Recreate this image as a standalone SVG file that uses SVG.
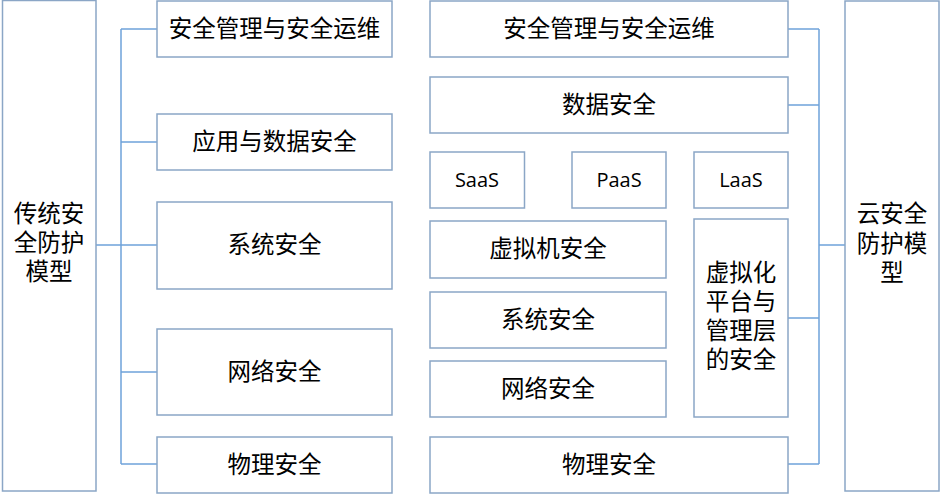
<svg xmlns="http://www.w3.org/2000/svg" width="941" height="494" viewBox="0 0 941 494">
<style>
.box{fill:#fff;stroke:#8BA6C6;stroke-width:1.5}
.c{fill:none;stroke:#6FA3DA;stroke-width:1.5}
.t{font-family:"Noto Sans CJK SC","Noto Sans",sans-serif;font-size:23.5px;fill:#000;text-anchor:middle;dominant-baseline:central}
.l{font-family:"Open Sans","Noto Sans",sans-serif;font-size:20px;fill:#000;text-anchor:middle;dominant-baseline:central}
</style>
<rect width="941" height="494" fill="#fff"/>
<g id="connectors">
<path class="c" d="M96,245H121M121,29V464M121,29H157M121,142H157M121,245H157M121,372H157M121,464H157"/>
<path class="c" d="M845,245H819M819,29V464M788,29H819M788,105H819M788,318H819M788,464H819"/>
</g>
<g id="trad"><rect class="box" x="2.5" y="0.5" width="93.5" height="490.5"/><text class="t" x="49" y="212">传统安</text><text class="t" x="49" y="241">全防护</text><text class="t" x="49" y="270">模型</text></g>
<g id="l1"><rect class="box" x="157" y="1" width="235" height="56"/><text class="t" x="274.5" y="27">安全管理与安全运维</text></g>
<g id="l2"><rect class="box" x="157" y="114" width="235" height="56"/><text class="t" x="274.5" y="140">应用与数据安全</text></g>
<g id="l3"><rect class="box" x="157" y="202" width="235" height="87"/><text class="t" x="274.5" y="243">系统安全</text></g>
<g id="l4"><rect class="box" x="157" y="329" width="235" height="86"/><text class="t" x="274.5" y="370">网络安全</text></g>
<g id="l5"><rect class="box" x="157" y="437" width="235" height="56"/><text class="t" x="274.5" y="463">物理安全</text></g>
<g id="r1"><rect class="box" x="430" y="1" width="358" height="56"/><text class="t" x="609" y="27">安全管理与安全运维</text></g>
<g id="r2"><rect class="box" x="430" y="77" width="358" height="56"/><text class="t" x="609" y="103">数据安全</text></g>
<g id="saas"><rect class="box" x="430" y="152" width="94.5" height="56"/><text class="l" x="477" y="179">SaaS</text></g>
<g id="paas"><rect class="box" x="572" y="152" width="94" height="56"/><text class="l" x="619" y="179">PaaS</text></g>
<g id="laas"><rect class="box" x="694" y="152" width="94" height="56"/><text class="l" x="741" y="179">LaaS</text></g>
<g id="vm"><rect class="box" x="430" y="221" width="236" height="57"/><text class="t" x="548" y="247">虚拟机安全</text></g>
<g id="sys"><rect class="box" x="430" y="292" width="236" height="56"/><text class="t" x="548" y="318">系统安全</text></g>
<g id="net"><rect class="box" x="430" y="361" width="236" height="56"/><text class="t" x="548" y="387">网络安全</text></g>
<g id="virt"><rect class="box" x="694" y="219" width="94" height="198"/><text class="t" x="741" y="271">虚拟化</text><text class="t" x="741" y="300">平台与</text><text class="t" x="741" y="329">管理层</text><text class="t" x="741" y="358">的安全</text></g>
<g id="phy"><rect class="box" x="430" y="437" width="358" height="56"/><text class="t" x="609" y="463">物理安全</text></g>
<g id="cloud"><rect class="box" x="845" y="1" width="94" height="490"/><text class="t" x="892" y="212">云安全</text><text class="t" x="892" y="242">防护模</text><text class="t" x="892" y="271">型</text></g>
</svg>
